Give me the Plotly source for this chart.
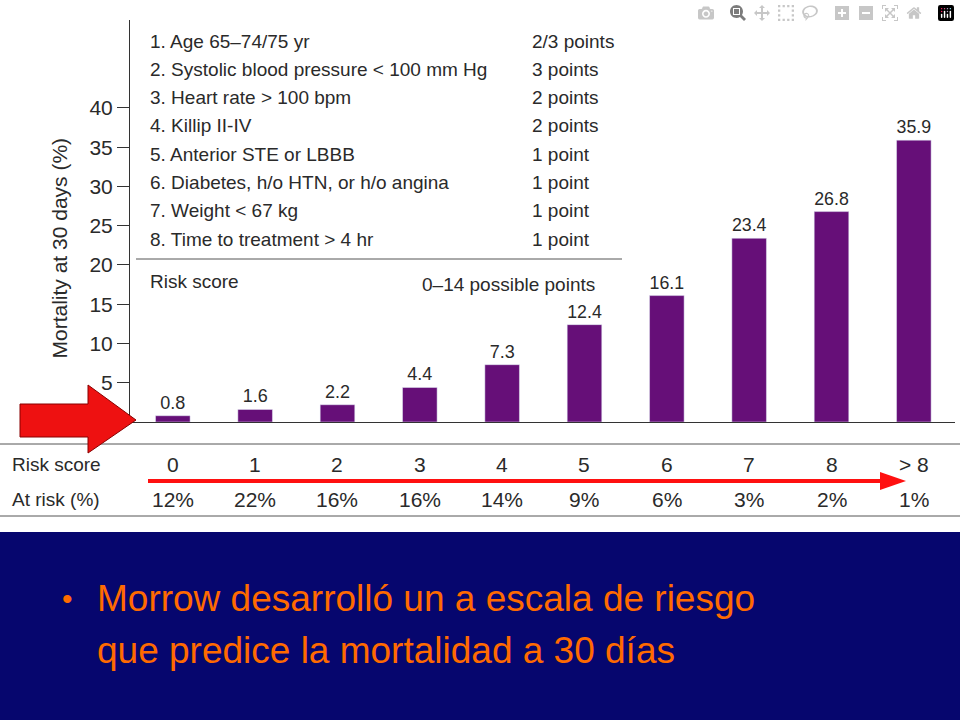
import plotly.graph_objects as go

scores = ["0","1","2","3","4","5","6","7","8","> 8"]
mortality = [0.8,1.6,2.2,4.4,7.3,12.4,16.1,23.4,26.8,35.9]
at_risk = ["12%","22%","16%","16%","14%","9%","6%","3%","2%","1%"]
factors = ["1. Age 65–74/75 yr","2. Systolic blood pressure < 100 mm Hg","3. Heart rate > 100 bpm",
           "4. Killip II-IV","5. Anterior STE or LBBB","6. Diabetes, h/o HTN, or h/o angina",
           "7. Weight < 67 kg","8. Time to treatment > 4 hr"]
points = ["2/3 points","3 points","2 points","2 points","1 point","1 point","1 point","1 point"]

W, H = 960, 720
def px(x): return x / W
def py(y): return 1 - y / H
FONT = "Liberation Sans, Arial"
GR = "#2a2a2a"

fig = go.Figure(go.Bar(x=list(range(10)), y=mortality, marker_color="#660f78", width=0.42,
                       text=[f"{v}" for v in mortality], textposition="outside",
                       textfont=dict(size=18, color=GR, family=FONT), cliponaxis=False))

ann = []
shapes = []
shapes.append(dict(type="rect", xref="paper", yref="paper", x0=0, x1=1, y0=0, y1=py(532),
                   fillcolor="#06066e", line_width=0, layer="below"))
for i, (f, p) in enumerate(zip(factors, points)):
    y = 41 + i * 28.3
    ann.append(dict(x=px(148), y=py(y), text=f, xanchor="left"))
    ann.append(dict(x=px(530), y=py(y), text=p, xanchor="left"))
shapes.append(dict(type="line", xref="paper", yref="paper", x0=px(136), x1=px(622), y0=py(259), y1=py(259), line=dict(color="#555", width=1)))
ann.append(dict(x=px(148), y=py(282), text="Risk score", xanchor="left"))
ann.append(dict(x=px(420), y=py(285), text="0–14 possible points", xanchor="left"))
shapes.append(dict(type="line", xref="paper", yref="paper", x0=0, x1=1, y0=py(444), y1=py(444), line=dict(color="#555", width=1)))
shapes.append(dict(type="line", xref="paper", yref="paper", x0=0, x1=1, y0=py(516), y1=py(516), line=dict(color="#555", width=1)))
ann.append(dict(x=px(10), y=py(464), text="Risk score", xanchor="left"))
ann.append(dict(x=px(10), y=py(499), text="At risk (%)", xanchor="left"))
for i, (s, r) in enumerate(zip(scores, at_risk)):
    ann.append(dict(x=i, xref="x", y=py(464), text=s, font=dict(size=21, color=GR, family=FONT)))
    ann.append(dict(x=i, xref="x", y=py(499), text=r, font=dict(size=21, color=GR, family=FONT)))
shapes.append(dict(type="path", xref="paper", yref="paper",
    path=f"M {px(20)},{py(404)} L {px(88)},{py(404)} L {px(88)},{py(385)} L {px(136)},{py(420)} L {px(88)},{py(453)} L {px(88)},{py(437)} L {px(20)},{py(437)} Z",
    fillcolor="#ee1111", line=dict(color="#880000", width=1)))
shapes.append(dict(type="line", xref="paper", yref="paper", x0=px(148), x1=px(885), y0=py(481), y1=py(481), line=dict(color="#ff1010", width=4)))
shapes.append(dict(type="path", xref="paper", yref="paper",
    path=f"M {px(880)},{py(472)} L {px(906)},{py(481)} L {px(880)},{py(490)} Z", fillcolor="#ff1010", line_width=0))
ann.append(dict(x=px(60), y=py(598), text="•", xanchor="left", font=dict(size=30, color="#ff6a00", family=FONT)))
ann.append(dict(x=px(95), y=py(598), text="Morrow desarrolló un a escala de riesgo", xanchor="left", font=dict(size=37, color="#ff6a00", family=FONT)))
ann.append(dict(x=px(95), y=py(650), text="que predice la mortalidad a 30 días", xanchor="left", font=dict(size=37, color="#ff6a00", family=FONT)))
ann.append(dict(x=px(45), y=py(248), text="Mortality at 30 days (%)", textangle=-90, font=dict(size=21, color=GR, family=FONT)))

for a in ann:
    a.setdefault("xref", "paper"); a.setdefault("yref", "paper")
    a.setdefault("showarrow", False); a.setdefault("yanchor", "middle")
    a.setdefault("font", dict(size=19, color=GR, family=FONT))

fig.update_layout(width=W, height=H, margin=dict(l=0, r=0, t=0, b=0),
    paper_bgcolor="white", plot_bgcolor="white", showlegend=False,
    annotations=ann, shapes=shapes,
    xaxis=dict(domain=[px(130), px(955)], range=[-0.52, 9.5], showticklabels=False, showgrid=False,
               showline=True, linecolor="#333", zeroline=False, ticks=""),
    yaxis=dict(domain=[py(422), py(20)], range=[0, 51.2], tickvals=[5,10,15,20,25,30,35,40],
               ticks="outside", ticklen=12, tickcolor="#333", showgrid=False, showline=True, linecolor="#333",
               zeroline=False, tickfont=dict(size=21, color=GR, family=FONT)))
fig.write_html("out.html")
with open("out.html", encoding="utf-8") as f:
    html = f.read()
html = html.replace("<body>", '<body style="margin:0;overflow:hidden">', 1)
with open("out.html", "w", encoding="utf-8") as f:
    f.write(html)
